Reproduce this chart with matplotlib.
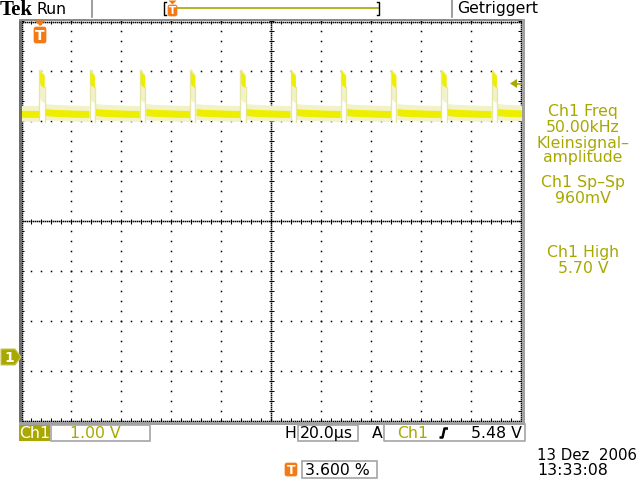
import matplotlib.pyplot as plt
from matplotlib.patches import Rectangle, Polygon, FancyBboxPatch
import numpy as np

# ---- scope settings / readout values ----
t_per_div = 20.0      # H 20.0 us
v_per_div = 1.0       # Ch1 1.00 V
gnd_div = -2.73       # position of the "1" ground marker (divisions from centre)
trig_level = 5.48     # V

# ---- trace ----
pulse_starts_us = [7.3, 27.4, 47.5, 67.6, 87.7, 107.8, 127.9, 148.0, 168.1, 188.2]
pulse_width_us = 2.1
# bright top of each pulse (time after rising edge, upper / lower volts)
top_t = [0.15, 0.5, 1.2, 1.95]
top_hi = [5.74, 5.72, 5.68, 5.64]
top_lo = [5.50, 5.45, 5.42, 5.40]
# baseline after each falling edge (time after fall, volts)
base_t = [0.3, 3.0, 8.0, 13.0, 17.8]
base_v = [4.91, 4.895, 4.885, 4.875, 4.87]
# baseline before the first pulse
first_t = [0.0, 7.2]
first_v = [4.875, 4.87]

olive = '#a8a800'
orange = '#f47a14'
core = '#eeee00'
halo = '#f2f2c8'
edge_col = '#e6e6a8'


def dx(t):
    return np.asarray(t, dtype=float) / t_per_div


def dy(v):
    return np.asarray(v, dtype=float) / v_per_div + gnd_div


fig = plt.figure(figsize=(6.4, 4.8), dpi=100)
fig.patch.set_facecolor('white')

# screen (graticule in divisions)
ax = fig.add_axes([21 / 640, 1 - 421 / 480, 500 / 640, 400 / 480])
ax.set_xlim(0, 10)
ax.set_ylim(-4, 4)
ax.axis('off')

# --- trace ---
def band(t, v, z=3):
    v = np.asarray(v, dtype=float)
    ax.fill_between(dx(t), dy(v - 0.15), dy(v + 0.17), color=halo, lw=0, zorder=z)
    ax.fill_between(dx(t), dy(v - 0.07), dy(v + 0.07), color=core, lw=0, zorder=z + 1)


band(first_t, first_v)
for t0 in pulse_starts_us:
    tf = t0 + pulse_width_us
    band(tf + np.asarray(base_t), base_v)
    tt = t0 + np.asarray(top_t)
    ax.fill_between(dx(tt), dy(np.asarray(top_lo) - 0.3), dy(np.asarray(top_hi) + 0.04),
                    color=halo, lw=0, zorder=3)
    ax.fill_between(dx(tt), dy(top_lo), dy(top_hi), color=core, lw=0, zorder=4)
    ax.plot(dx([t0, t0]), dy([4.74, 5.76]), color=edge_col, lw=1.0, zorder=3)
    ax.plot(dx([tf, tf]), dy([5.42, 4.70]), color=edge_col, lw=1.0, zorder=3)

# --- graticule ---
dot = dict(ls='none', marker='s', ms=1.1, mew=0, color='k', zorder=2)
xx = np.arange(0, 10.001, 0.2)
yy = np.arange(-4, 4.001, 0.2)
for k in [1, 2, 3, 4, 6, 7, 8, 9]:
    ax.plot(np.full_like(yy, k), yy, **dot)
for j in [-3, -2, -1, 1, 2, 3]:
    ax.plot(xx, np.full_like(xx, j), **dot)
fx = np.arange(0, 10.001, 0.04)
fy = np.arange(-4, 4.001, 0.04)
ax.plot(fx, np.zeros_like(fx), **dot)
ax.plot(np.full_like(fy, 5), fy, **dot)
ax.vlines(xx, -0.05, 0.05, color='k', lw=0.75, zorder=2)
ax.hlines(yy, 4.95, 5.05, color='k', lw=0.75, zorder=2)
# edges
ax.plot(fx, np.full_like(fx, 3.99), **dot)
ax.plot(fx, np.full_like(fx, -3.99), **dot)
ax.plot(np.full_like(fy, 0.01), fy, **dot)
ax.plot(np.full_like(fy, 9.99), fy, **dot)
ax.vlines(xx, 3.94, 4, color='k', lw=0.75, zorder=2)
ax.vlines(xx, -4, -3.94, color='k', lw=0.75, zorder=2)
ax.hlines(yy, 0, 0.06, color='k', lw=0.75, zorder=2)
ax.hlines(yy, 9.94, 10, color='k', lw=0.75, zorder=2)

# ---- overlay in pixel coordinates ----
ov = fig.add_axes([0, 0, 1, 1])
ov.set_xlim(0, 640)
ov.set_ylim(480, 0)
ov.axis('off')
ov.patch.set_alpha(0)

# screen frame
ov.add_patch(Rectangle((18.5, 18.5), 3, 406, color='#6e6e6e', lw=0))
ov.add_patch(Rectangle((18.5, 18.5), 506, 2.5, color='#8c8c8c', lw=0))
ov.add_patch(Rectangle((521.5, 18.5), 3, 406, color='#a0a0a0', lw=0))
ov.add_patch(Rectangle((18.5, 421.5), 506, 3, color='#a0a0a0', lw=0))

fs = 11.3
sans = ['DejaVu Sans']

# header
ov.text(0, 15, 'Tek', family='Liberation Serif', weight='bold', fontsize=15, color='k')
ov.text(37, 13.5, 'Run', family=sans, fontsize=fs, color='k')
ov.plot([92, 92], [0, 17], color='#8c8c8c', lw=1.2)
ov.plot([452, 452], [0, 17], color='#8c8c8c', lw=1.2)
ov.text(457, 13, 'Getriggert', family=sans, fontsize=fs, color='k')
ov.plot([172, 379], [7.5, 7.5], color=olive, lw=1.2)
ov.plot([166, 164, 164, 166], [1.5, 1.5, 14.5, 14.5], color='k', lw=1.0)
ov.plot([377, 379, 379, 377], [1.5, 1.5, 14.5, 14.5], color='k', lw=1.0)


def t_icon(x0, y0, w, h, tri=None, size=8.5):
    ov.add_patch(FancyBboxPatch((x0, y0), w, h, boxstyle='round,pad=0,rounding_size=2',
                                fc=orange, ec=orange, lw=0.5, zorder=6))
    ov.text(x0 + w / 2, y0 + h / 2 + 0.5, 'T', ha='center', va='center', color='white',
            weight='bold', fontsize=size, family=sans, zorder=7)
    if tri is not None:
        ov.add_patch(Polygon([(x0 + 0.5, tri[0]), (x0 + w - 0.5, tri[0]),
                              (x0 + w / 2, tri[1])], closed=True, fc=orange, ec='none', zorder=6))


t_icon(168, 5, 9, 11, tri=(0.5, 4.5), size=7.5)
t_icon(34, 27, 12, 16, tri=(20.5, 26), size=10)
t_icon(285, 463, 12, 13, size=9)

# ground marker and trigger level arrow
ov.add_patch(Polygon([(1, 349), (15, 349), (21, 357), (15, 365), (1, 365)], closed=True,
                     fc=olive, ec='#c8c860', lw=0.8, zorder=6))
ov.text(9, 357.5, '1', ha='center', va='center', color='white', weight='bold',
        fontsize=10, family=sans, zorder=7)
trig_y = 421 - (trig_level / v_per_div + gnd_div + 4) * 50
ov.add_patch(Polygon([(510, trig_y), (517, trig_y - 4.5), (517, trig_y + 4.5)], closed=True,
                     fc=olive, ec='none', zorder=6))
ov.plot([517, 521], [trig_y, trig_y], color=olive, lw=1.2)

# measurement readouts
right_lines = [('Ch1 Freq', 116), ('50.00kHz', 132), ('Kleinsignal\u2013\namplitude', 162),
               ('Ch1 Sp\u2013Sp', 187), ('960mV', 203),
               ('Ch1 High', 257), ('5.70 V', 273)]
for s, y in right_lines:
    ov.text(583, y, s, ha='center', va='baseline', color=olive, fontsize=fs, family=sans,
            linespacing=0.88, multialignment='center')

# bottom status line
box = dict(fill=False, ec='#a4a4a4', lw=1.2)
ov.add_patch(Rectangle((19, 425), 31, 16, fc=olive, ec='none'))
ov.text(34.5, 438, 'Ch1', ha='center', va='baseline', color='white', fontsize=fs, family=sans)
ov.add_patch(Rectangle((51, 424.5), 99, 16.5, **box))
ov.text(70, 438, '1.00 V', va='baseline', color=olive, fontsize=fs, family=sans)
ov.text(285, 438, 'H', va='baseline', color='k', fontsize=fs, family=sans)
ov.add_patch(Rectangle((297.5, 424.5), 60, 16.5, **box))
ov.text(300, 438, '20.0\u00b5s', va='baseline', color='k', fontsize=fs, family=sans)
ov.text(372, 438, 'A', va='baseline', color='k', fontsize=fs, family=sans)
ov.plot([384, 384, 525, 525], [424, 441, 441, 424], color='#a4a4a4', lw=1.2)
ov.text(397, 438, 'Ch1', va='baseline', color=olive, fontsize=fs, family=sans)
ov.plot([439.5, 442.5, 444.5, 448], [437.5, 437.5, 428.5, 428.5], color='k', lw=1.8,
        solid_capstyle='butt')
ov.text(522, 438, '5.48 V', ha='right', va='baseline', color='k', fontsize=fs, family=sans)

ov.add_patch(Rectangle((302, 461), 75, 17, **box))
ov.text(305, 475, '3.600 %', va='baseline', color='k', fontsize=fs, family=sans)
ov.text(637, 460, '13 Dez  2006', ha='right', va='baseline', color='k', fontsize=10.8,
        family=sans)
ov.text(537, 475, '13:33:08', va='baseline', color='k', fontsize=fs, family=sans)

fig.savefig('out.png', dpi=100)
